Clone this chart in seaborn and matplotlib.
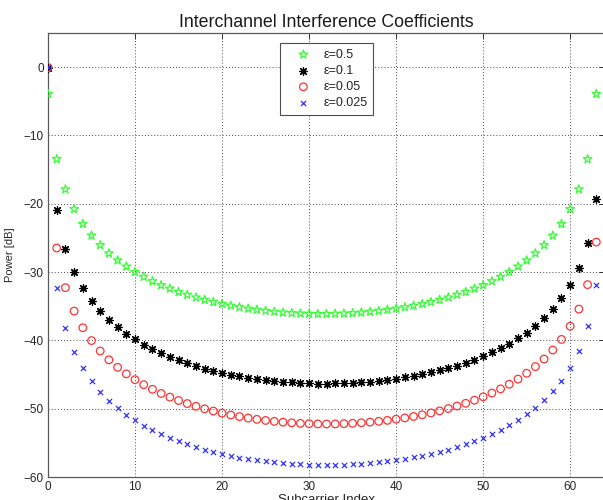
import numpy as np
import pandas as pd
import matplotlib
matplotlib.use("Agg")
import matplotlib.pyplot as plt
import seaborn as sns

subcarrier = list(range(64))

eps_labels = ["\u03b5=0.5", "\u03b5=0.1", "\u03b5=0.05", "\u03b5=0.025"]

power_eps_0_5 = [
    -3.92, -13.46, -17.88, -20.78, -22.94, -24.65, -26.05, -27.25, -28.28, -29.18,
    -29.98, -30.69, -31.33, -31.91, -32.42, -32.90, -33.32, -33.71, -34.06, -34.38,
    -34.66, -34.92, -35.14, -35.35, -35.52, -35.67, -35.80, -35.91, -36.00, -36.06,
    -36.10, -36.12, -36.12, -36.10, -36.06, -36.00, -35.91, -35.80, -35.67, -35.52,
    -35.35, -35.14, -34.92, -34.66, -34.38, -34.06, -33.71, -33.32, -32.90, -32.42,
    -31.91, -31.33, -30.69, -29.98, -29.18, -28.28, -27.25, -26.05, -24.65, -22.94,
    -20.78, -17.88, -13.46, -3.92]

power_eps_0_1 = [
    -0.14, -20.97, -26.57, -29.94, -32.34, -34.20, -35.72, -36.99, -38.08, -39.03,
    -39.87, -40.62, -41.28, -41.88, -42.42, -42.91, -43.36, -43.76, -44.12, -44.45,
    -44.75, -45.02, -45.26, -45.47, -45.65, -45.82, -45.96, -46.07, -46.16, -46.24,
    -46.29, -46.32, -46.32, -46.31, -46.28, -46.22, -46.15, -46.05, -45.93, -45.79,
    -45.62, -45.43, -45.21, -44.97, -44.69, -44.39, -44.05, -43.68, -43.27, -42.82,
    -42.32, -41.77, -41.16, -40.47, -39.71, -38.85, -37.88, -36.75, -35.44, -33.86,
    -31.91, -29.36, -25.71, -19.23]

power_eps_0_05 = [
    -0.04, -26.48, -32.28, -35.71, -38.15, -40.03, -41.56, -42.85, -43.95, -44.90,
    -45.75, -46.49, -47.16, -47.77, -48.31, -48.80, -49.25, -49.65, -50.02, -50.35,
    -50.65, -50.92, -51.16, -51.37, -51.56, -51.72, -51.86, -51.98, -52.07, -52.15,
    -52.20, -52.23, -52.24, -52.23, -52.19, -52.14, -52.06, -51.97, -51.85, -51.71,
    -51.54, -51.35, -51.14, -50.89, -50.62, -50.32, -49.98, -49.61, -49.21, -48.76,
    -48.26, -47.71, -47.10, -46.42, -45.67, -44.81, -43.84, -42.73, -41.42, -39.86,
    -37.93, -35.42, -31.84, -25.61]

power_eps_0_025 = [
    -0.01, -32.26, -38.17, -41.63, -44.09, -45.99, -47.52, -48.81, -49.92, -50.88,
    -51.72, -52.47, -53.14, -53.75, -54.29, -54.79, -55.23, -55.64, -56.01, -56.34,
    -56.64, -56.91, -57.15, -57.36, -57.55, -57.71, -57.85, -57.97, -58.07, -58.14,
    -58.19, -58.22, -58.23, -58.22, -58.19, -58.14, -58.06, -57.97, -57.85, -57.71,
    -57.54, -57.35, -57.14, -56.89, -56.62, -56.32, -55.99, -55.62, -55.21, -54.76,
    -54.27, -53.72, -53.11, -52.44, -51.68, -50.83, -49.86, -48.75, -47.45, -45.90,
    -43.98, -41.49, -37.95, -31.83]

x_ticks = [0, 10, 20, 30, 40, 50, 60]
y_ticks = [0, -10, -20, -30, -40, -50, -60]

series = [power_eps_0_5, power_eps_0_1, power_eps_0_05, power_eps_0_025]

sns.set_style("white")
plt.rcParams['font.family'] = ['Liberation Sans', 'DejaVu Sans']
plt.rcParams['axes.unicode_minus'] = True

fig = plt.figure(figsize=(6.03, 5.0), dpi=100)
ax = fig.add_axes([48 / 603, 23 / 500, 557 / 603, 444 / 500])

styles = [
    dict(marker="*", s=42, facecolor="none", edgecolor="#33ff33", linewidth=0.9),
    dict(marker=(8, 2, 0), s=30, color="black", linewidth=0.9),
    dict(marker="o", s=30, facecolor="none", edgecolor="#ff3333", linewidth=0.9),
    dict(marker="x", s=14, color="#3333ff", linewidth=0.9),
]

for lab, vals, st in zip(eps_labels, series, styles):
    df = pd.DataFrame({"Subcarrier Index": subcarrier, "Power [dB]": vals})
    sns.scatterplot(data=df, x="Subcarrier Index", y="Power [dB]", ax=ax,
                    label=lab, zorder=3, **st)

ax.set_xlim(0, 64)
ax.set_ylim(-60, 5)
ax.set_xticks(x_ticks)
ax.set_yticks(y_ticks)
ax.grid(True, linestyle=(0, (1, 2.2)), color="0.3", linewidth=0.7)
ax.set_axisbelow(True)
ax.tick_params(direction="in", length=4, width=0.7, labelsize=8.5, colors="0.2",
               top=True, right=True, labelcolor="0.15", pad=3)
for sp in ax.spines.values():
    sp.set_color("0.35")
    sp.set_linewidth(0.9)

ax.set_title("Interchannel Interference Coefficients", fontsize=12.8, pad=4.5, color="0.1")
ax.set_xlabel("Subcarrier Index", fontsize=9.5, labelpad=0.5, color="0.15")
ax.set_ylabel("Power [dB]", fontsize=8, labelpad=6, color="0.15")

leg = ax.legend(loc="upper left", bbox_to_anchor=(0.417, 0.977), fancybox=False,
                framealpha=1, edgecolor="0.3", fontsize=9, borderpad=0.45,
                handlelength=2.8, handletextpad=0.2, labelspacing=0.33,
                borderaxespad=0)
leg.get_frame().set_linewidth(0.8)

fig.savefig("out.png", dpi=100)
